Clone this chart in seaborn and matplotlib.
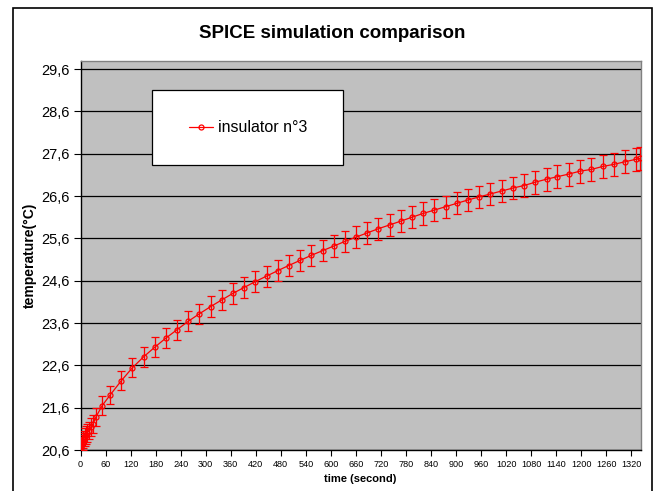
import matplotlib
matplotlib.use("Agg")
import matplotlib.pyplot as plt
import seaborn as sns
import pandas as pd
import numpy as np
from matplotlib.patches import Rectangle

# ---- data ----
times = [0, 1, 2, 3, 5, 7, 10, 13, 16, 20, 25, 30, 37, 52, 71, 98, 124,
         151, 178, 204, 231, 258, 285, 312, 339, 365, 392, 419, 446, 473, 499,
         526, 553, 580, 607, 634, 660, 687, 714, 741, 768, 794, 821, 848, 875,
         902, 929, 955, 982, 1009, 1036, 1063, 1090, 1117, 1143, 1170, 1197,
         1224, 1251, 1278, 1304, 1331, 1341]
temps = [20.60, 20.66, 20.70, 20.74, 20.80, 20.85, 20.90, 20.95, 21.00, 21.06,
         21.14, 21.22, 21.38, 21.65, 21.90, 22.24, 22.54,
         22.80, 23.03, 23.24, 23.44, 23.64, 23.82, 23.99, 24.15, 24.30, 24.44,
         24.58, 24.71, 24.84, 24.96, 25.08, 25.20, 25.31, 25.42, 25.53, 25.63,
         25.73, 25.83, 25.92, 26.01, 26.10, 26.19, 26.27, 26.35, 26.43, 26.51,
         26.58, 26.65, 26.72, 26.79, 26.85, 26.93, 27.00, 27.06, 27.12, 27.19,
         27.23, 27.30, 27.35, 27.41, 27.47, 27.49]
err_pct = 1.0  # percentage error bars (Excel style)

series_name = "insulator n°3"
title = "SPICE simulation comparison"
x_label = "time (second)"
y_label = "temperature(°C)"
x_ticks = list(range(0, 1321, 60))
y_ticks = [20.6, 21.6, 22.6, 23.6, 24.6, 25.6, 26.6, 27.6, 28.6, 29.6]
y_tick_labels = ["20,6", "21,6", "22,6", "23,6", "24,6", "25,6", "26,6",
                 "27,6", "28,6", "29,6"]

df = pd.DataFrame({"time": times, "temp": temps, "series": series_name})

sns.set_theme(style="white")
plt.rcParams["font.family"] = ["Liberation Sans", "DejaVu Sans"]
plt.rcParams["text.color"] = "black"
plt.rcParams["axes.labelcolor"] = "black"
plt.rcParams["xtick.color"] = "black"
plt.rcParams["ytick.color"] = "black"

RED = "#FF0000"
W, H = 658, 491
fig = plt.figure(figsize=(W / 100, H / 100), dpi=100)
fig.patch.set_facecolor("white")

ax_l, ax_r, ax_t, ax_b = 80.5, 640.5, 60.7, 450.0
ax = fig.add_axes([ax_l / W, 1 - ax_b / H, (ax_r - ax_l) / W, (ax_b - ax_t) / H])
ax.set_facecolor("#C0C0C0")

# error bars
yerr = df["temp"] * err_pct / 100.0
ax.errorbar(df["time"], df["temp"], yerr=yerr, fmt="none", ecolor=RED,
            elinewidth=0.9, capsize=2.9, capthick=0.9, zorder=3)

sns.lineplot(data=df, x="time", y="temp", hue="series", palette=[RED],
             estimator=None, marker="o", markersize=3.6,
             markerfacecolor="none", markeredgecolor=RED,
             markeredgewidth=0.9, linewidth=0.9, ax=ax, zorder=4)

ax.set_xlim(0, 1342)
ax.set_ylim(20.6, 29.8)
ax.set_xticks(x_ticks)
ax.set_xticklabels([str(t) for t in x_ticks], fontsize=6.6)
ax.set_yticks(y_ticks)
ax.set_yticklabels(y_tick_labels, fontsize=10.5)
ax.tick_params(axis="x", direction="out", length=4, width=0.8, color="black",
               pad=3, bottom=True)
ax.tick_params(axis="y", direction="out", length=5, width=0.8, color="black",
               pad=3, left=True)
ax.yaxis.grid(True, color="black", linewidth=0.9)
ax.xaxis.grid(False)
ax.set_axisbelow(True)

for s in ["top", "right"]:
    ax.spines[s].set_color("#808080")
    ax.spines[s].set_linewidth(1.0)
for s in ["left", "bottom"]:
    ax.spines[s].set_color("black")
    ax.spines[s].set_linewidth(1.0)

ax.set_xlabel(x_label, fontsize=8, fontweight="bold", labelpad=4)
ax.set_ylabel(y_label, fontsize=10, fontweight="bold", labelpad=3)

# legend box
bx0, bx1, by0, by1 = 152, 343, 90, 165
box = Rectangle(((bx0 - ax_l) / (ax_r - ax_l), (ax_b - by1) / (ax_b - ax_t)),
                (bx1 - bx0) / (ax_r - ax_l), (by1 - by0) / (ax_b - ax_t),
                transform=ax.transAxes, facecolor="white", edgecolor="black",
                linewidth=0.9, zorder=5)
ax.add_patch(box)
leg = ax.legend(loc="center",
                bbox_to_anchor=((248 - ax_l) / (ax_r - ax_l),
                                (ax_b - 128) / (ax_b - ax_t)),
                frameon=False, fontsize=11.5, handlelength=1.5,
                handletextpad=0.3)
leg.set_zorder(6)

fig.text(332 / W, 1 - 33 / H, title, ha="center", va="center",
         fontsize=13.5, fontweight="bold", color="black")

# outer chart border
fig.patches.append(Rectangle((12.5 / W, -0.05), (652 - 12.5) / W,
                             1 - 8 / H + 0.05, transform=fig.transFigure,
                             fill=False, edgecolor="black", linewidth=1.2))

fig.savefig("out.png", dpi=100)
